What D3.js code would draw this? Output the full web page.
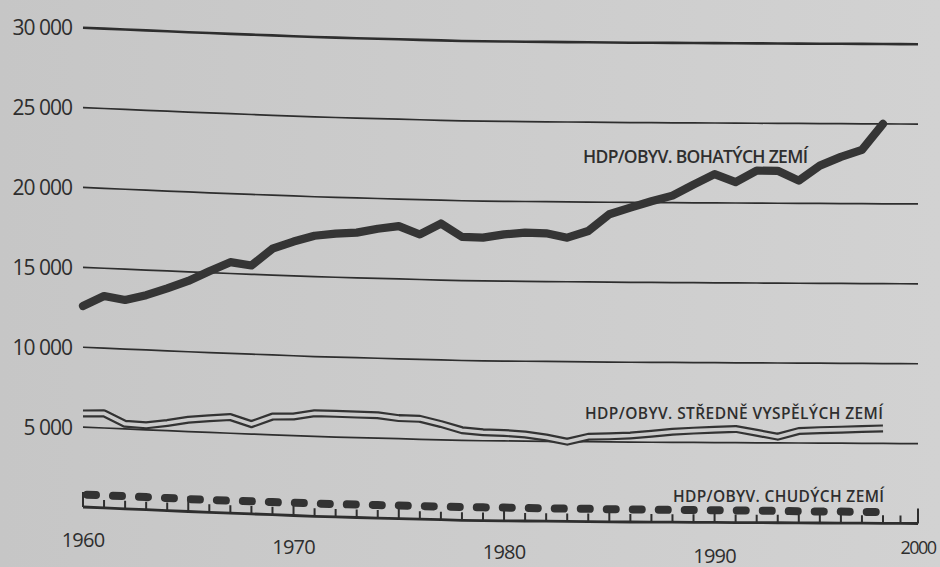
<!DOCTYPE html>
<html lang="cs">
<head>
<meta charset="utf-8">
<title>HDP na obyvatele</title>
<script src="https://cdn.jsdelivr.net/npm/d3@7"></script>
<style>
html, body { margin: 0; padding: 0; background: #cbcbcb; overflow: hidden; }
svg { display: block; }
</style>
</head>
<body>
<div id="chart"></div>
<script>
// years of the three series
const years = [1960, 1961, 1962, 1963, 1964, 1965, 1966, 1967, 1968, 1969,
	1970, 1971, 1972, 1973, 1974, 1975, 1976, 1977, 1978, 1979,
	1980, 1981, 1982, 1983, 1984, 1985, 1986, 1987, 1988, 1989,
	1990, 1991, 1992, 1993, 1994, 1995, 1996, 1997, 1998];

// HDP/obyv. bohatých zemí
const rich_gdp = [12580, 13260, 13070, 13430, 13910, 14430, 15090, 15710, 15550, 16650,
	17150, 17560, 17730, 17830, 18110, 18310, 17820, 18540, 17740, 17710,
	17930, 18050, 18020, 17760, 18190, 19250, 19680, 20080, 20440, 21140,
	21800, 21310, 22030, 22030, 21420, 22370, 22920, 23370, 25000];

// HDP/obyv. středně vyspělých zemí
const middle_gdp = [5860, 5920, 5320, 5280, 5480, 5740, 5890, 6010, 5620, 6140,
	6200, 6450, 6450, 6440, 6430, 6290, 6280, 5990, 5640, 5530,
	5500, 5420, 5240, 4990, 5310, 5350, 5410, 5530, 5660, 5740,
	5800, 5860, 5630, 5390, 5750, 5810, 5850, 5900, 5940];

// HDP/obyv. chudých zemí
const poor_gdp = [780, 780, 790, 790, 790, 780, 780, 780, 790, 790,
	800, 800, 800, 810, 810, 820, 820, 820, 830, 830,
	830, 820, 810, 800, 800, 790, 790, 780, 770, 770,
	760, 760, 750, 740, 730, 720, 720, 710, 700];

const grid_values = [5000, 10000, 15000, 20000, 25000, 30000];
const axis_years = [1960, 1961, 1962, 1963, 1964, 1965, 1966, 1967, 1968, 1969,
	1970, 1971, 1972, 1973, 1974, 1975, 1976, 1977, 1978, 1979,
	1980, 1981, 1982, 1983, 1984, 1985, 1986, 1987, 1988, 1989,
	1990, 1991, 1992, 1993, 1994, 1995, 1996, 1997, 1998, 1999, 2000];
const year_labels = [1960, 1970, 1980, 1990, 2000];
const series_labels = ["HDP/OBYV. BOHATÝCH ZEMÍ", "HDP/OBYV. STŘEDNĚ VYSPĚLÝCH ZEMÍ", "HDP/OBYV. CHUDÝCH ZEMÍ"];

document.addEventListener("DOMContentLoaded", function() {
	let width = 940;
	let height = 567;
	let ink = "#2e2e2e";
	let paper = "#cbcbcb";
	let font = "'Open Sans', 'Noto Sans', sans-serif";

	// 1. svg + page background
	let svg = d3.select("#chart").append("svg").attr("width", width).attr("height", height);
	let grad = svg.append("defs").append("linearGradient").attr("id", "paper");
	grad.append("stop").attr("offset", "0").attr("stop-color", "#c6c6c6");
	grad.append("stop").attr("offset", "1").attr("stop-color", "#d2d2d2");
	svg.append("rect").attr("width", width).attr("height", height).attr("fill", "url(#paper)");

	// 2. scales (bend = sag of the photographed page)
	let x = d3.scaleLinear().domain([1960, 1998, 2000]).range([83, 883, 918]);
	let y = d3.scaleLinear().domain([0, 30000]).range([507, 27.7]);
	let bend = d3.scaleLinear().domain([83, 200, 320, 470, 630, 918]).range([0, 5, 9.5, 13.5, 15, 16.5]).clamp(true);
	const pt = (yr, v) => [x(yr), y(v) + bend(x(yr))];
	let line = d3.line();

	let fmt = d3.formatLocale({decimal: ",", thousands: " ", grouping: [3], currency: ["", " Kč"]}).format(",");

	// 3. gridlines + y labels
	let g = svg.append("g");
	g.selectAll(".grid")
		.data(grid_values)
		.enter()
		.append("path")
		.attr("class", "grid")
		.attr("d", v => line(axis_years.map(yr => pt(yr, v))))
		.attr("fill", "none")
		.attr("stroke", ink)
		.attr("stroke-width", v => v === 30000 ? 2.6 : 1.7);

	g.selectAll(".ylab")
		.data(grid_values)
		.enter()
		.append("text")
		.attr("class", "ylab")
		.attr("x", 72)
		.attr("y", v => y(v))
		.attr("dy", "0.36em")
		.attr("text-anchor", "end")
		.attr("font-family", font)
		.attr("font-size", 21)
		.attr("letter-spacing", -1)
		.attr("fill", ink)
		.text(v => fmt(v));

	// 4. x axis (baseline + yearly ticks, taller every 5 years)
	g.append("path")
		.attr("d", line(axis_years.map(yr => pt(yr, 0))))
		.attr("fill", "none")
		.attr("stroke", ink)
		.attr("stroke-width", 2.8);

	let tick_path = axis_years.map(yr => {
		let p = pt(yr, 0);
		return "M" + p[0] + "," + p[1] + "V" + (p[1] - (yr % 5 === 0 ? 15 : 8));
	}).join("");
	g.append("path")
		.attr("class", "yearticks")
		.attr("d", tick_path)
		.attr("fill", "none")
		.attr("stroke", ink)
		.attr("stroke-width", 2);

	let label_dy = [33, 35, 37, 40, 31];
	g.selectAll(".xlab")
		.data(year_labels)
		.enter()
		.append("text")
		.attr("class", "xlab")
		.attr("x", yr => x(yr))
		.attr("y", (yr, i) => y(0) + label_dy[i] + bend(x(yr)) * 0.6)
		.attr("dy", "0.36em")
		.attr("text-anchor", "middle")
		.attr("font-family", font)
		.attr("font-size", yr => yr === 2000 ? 18 : 20)
		.attr("letter-spacing", yr => yr === 2000 ? -1.5 : -0.8)
		.attr("fill", ink)
		.text(yr => yr);

	// 5. series
	let rich_pts = years.map((yr, i) => pt(yr, rich_gdp[i]));
	let middle_pts = years.map((yr, i) => pt(yr, middle_gdp[i]));
	let poor_pts = years.map((yr, i) => pt(yr, poor_gdp[i]));

	g.append("path")
		.attr("d", line(poor_pts))
		.attr("fill", "none")
		.attr("stroke", "#333")
		.attr("stroke-width", 8)
		.attr("stroke-linecap", "round")
		.attr("stroke-dasharray", "9 17")
		.attr("stroke-dashoffset", -4);

	// double line: dark stroke with a paper-coloured core
	g.append("path")
		.attr("d", line(middle_pts))
		.attr("fill", "none")
		.attr("stroke", "#333")
		.attr("stroke-width", 8)
		.attr("stroke-linejoin", "round");
	g.append("path")
		.attr("d", line(middle_pts))
		.attr("fill", "none")
		.attr("stroke", paper)
		.attr("stroke-width", 3.6)
		.attr("stroke-linejoin", "round");

	g.append("path")
		.attr("d", line(rich_pts))
		.attr("fill", "none")
		.attr("stroke", "#353535")
		.attr("stroke-width", 8.2)
		.attr("stroke-linejoin", "round")
		.attr("stroke-linecap", "round");

	// 6. series labels
	let label_pos = [
		{x: 583, y: 163, size: 17.5, len: 225},
		{x: 585, y: 419, size: 15.5, len: 298},
		{x: 673, y: 501.5, size: 15.5, len: 211}
	];
	g.selectAll(".slab")
		.data(series_labels)
		.enter()
		.append("text")
		.attr("class", "slab")
		.attr("x", (d, i) => label_pos[i].x)
		.attr("y", (d, i) => label_pos[i].y)
		.attr("font-family", font)
		.attr("font-size", (d, i) => label_pos[i].size)
		.attr("font-weight", 600)
		.attr("textLength", (d, i) => label_pos[i].len)
		.attr("lengthAdjust", "spacing")
		.attr("fill", ink)
		.text(d => d);
});
</script>
</body>
</html>
